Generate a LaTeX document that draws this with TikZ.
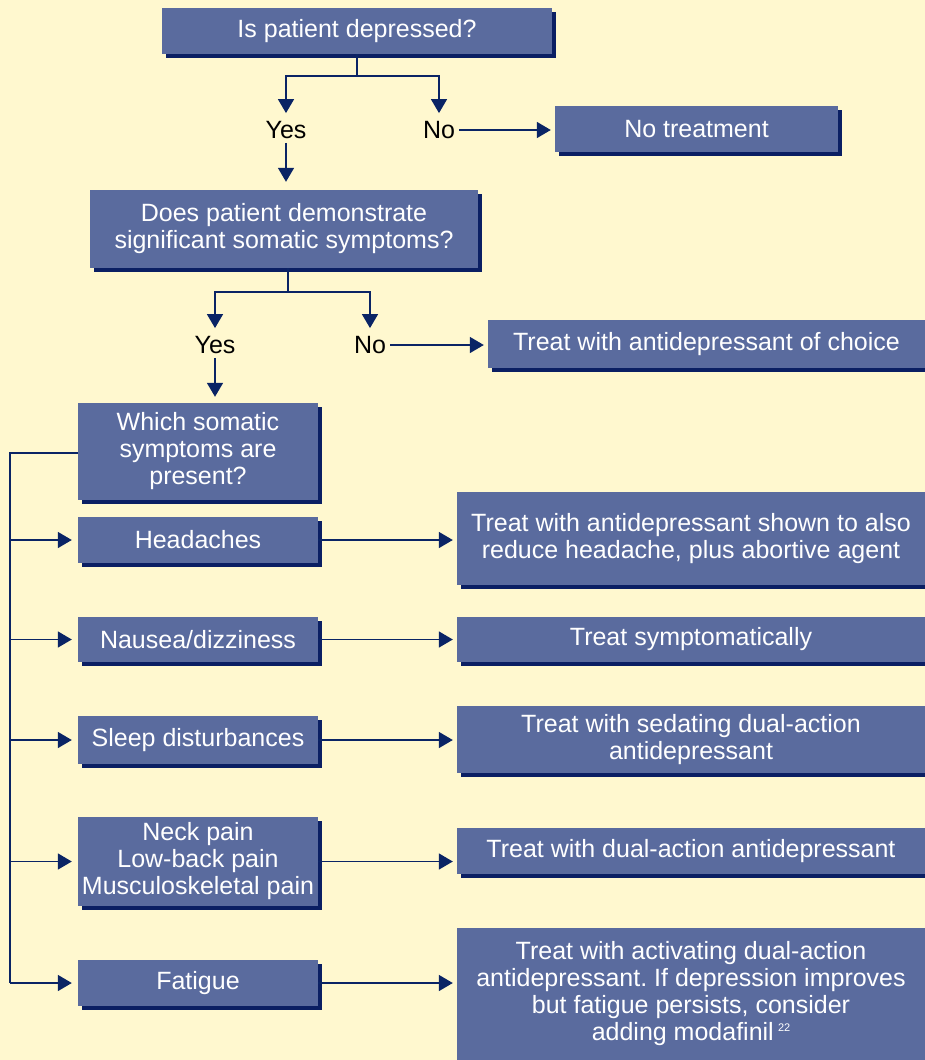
\documentclass[tikz,border=0pt]{standalone}
\usepackage{fontspec}
\setmainfont{Liberation Sans}
\usetikzlibrary{arrows.meta,shadows}
\definecolor{bgc}{HTML}{FFF8CF}
\definecolor{boxc}{HTML}{5A6B9E}
\definecolor{shadc}{HTML}{0B1F63}
\definecolor{linec}{HTML}{0A2465}
\tikzset{
  box/.style={fill=boxc, text=white, inner sep=0pt, align=center,
    font=\fontsize{25}{27}\selectfont,
    drop shadow={shadow xshift=3.5pt, shadow yshift=-3.5pt, fill=shadc, opacity=1}},
  lbl/.style={text=black, inner sep=4pt, font=\fontsize{25}{27}\selectfont},
  conn/.style={draw=linec, line width=1.6pt},
  arr/.style={conn, -{Triangle[length=14pt,width=16pt]}, shorten >=4pt},
}
\frenchspacing
\begin{document}
\begin{tikzpicture}[x=1pt,y=-1pt]
\path[use as bounding box, fill=bgc] (0,0) rectangle (925,1060);
\clip (0,0) rectangle (925,1060);

\node[box, minimum width=390pt, minimum height=46pt] (b1) at (357,31) {Is patient depressed?};
\node[box, minimum width=283pt, minimum height=46pt] (b2) at (696.5,129) {No treatment};
\node[box, minimum width=388pt, minimum height=78pt] (b3) at (284,229) {Does patient demonstrate\\significant somatic symptoms?};
\node[box, minimum width=437pt, minimum height=48pt] (b4) at (706.5,344) {Treat with antidepressant of choice};
\node[box, minimum width=240pt, minimum height=97pt] (b5) at (198,451.5) {Which somatic\\symptoms are\\present?};
\node[box, minimum width=240pt, minimum height=46pt] (b6) at (198,540) {Headaches};
\node[box, minimum width=468pt, minimum height=93pt] (b7) at (691,538.5) {Treat with antidepressant shown to also\\reduce headache, plus abortive agent};
\node[box, minimum width=240pt, minimum height=45pt] (b8) at (198,639.5) {Nausea/dizziness};
\node[box, minimum width=468pt, minimum height=45pt] (b9) at (691,639.5) {Treat symptomatically};
\node[box, minimum width=240pt, minimum height=48pt] (b10) at (198,740) {Sleep disturbances};
\node[box, minimum width=468pt, minimum height=67pt] (b11) at (691,739.5) {Treat with sedating dual-action\\antidepressant};
\node[box, minimum width=240pt, minimum height=89pt] (b12) at (198,861.5) {Neck pain\\Low-back pain\\Musculoskeletal pain};
\node[box, minimum width=468pt, minimum height=46pt] (b13) at (691,851) {Treat with dual-action antidepressant};
\node[box, minimum width=240pt, minimum height=46pt] (b14) at (198,983) {Fatigue};
\node[box, minimum width=468pt, minimum height=132pt] (b15) at (691,994) {Treat with activating dual-action\\antidepressant. If depression improves\\but fatigue persists, consider\\adding modafinil\,\raisebox{9pt}{\fontsize{11}{11}\selectfont 22}};

\node[lbl] (yes1) at (286,130) {Yes};
\node[lbl] (no1) at (439,130) {No};
\node[lbl] (yes2) at (215,345) {Yes};
\node[lbl] (no2) at (370,345) {No};

\coordinate (j1) at (357,76);
\coordinate (j2) at (288,292);
\coordinate (trunk) at (10,453);

\draw[conn] (b1.south -| j1) -- (j1);
\draw[arr] (j1) -| (yes1.north);
\draw[arr] (j1) -| (no1.north);
\draw[arr] (no1.east) -- (no1.east -| b2.west);
\draw[arr, shorten >=8pt] (yes1.south) -- (yes1.south |- b3.north);

\draw[conn] (b3.south -| j2) -- (j2);
\draw[arr] (j2) -| (yes2.north);
\draw[arr] (j2) -| (no2.north);
\draw[arr] (no2.east) -- (no2.east -| b4.west);
\draw[arr, shorten >=6pt] (yes2.south) -- (yes2.south |- b5.north);

\draw[conn] (b5.west |- trunk) -- (trunk) -- (trunk |- b14.west);
\foreach \b in {b6,b8,b10,b12,b14}{
  \draw[arr, shorten >=6pt] (trunk |- \b.west) -- (\b.west);
}
\draw[arr] (b6.east) -- (b6.east -| b7.west);
\draw[arr] (b8.east) -- (b8.east -| b9.west);
\draw[arr] (b10.east) -- (b10.east -| b11.west);
\draw[arr] (b12.east) -- (b12.east -| b13.west);
\draw[arr] (b14.east) -- (b14.east -| b15.west);
\end{tikzpicture}
\end{document}
